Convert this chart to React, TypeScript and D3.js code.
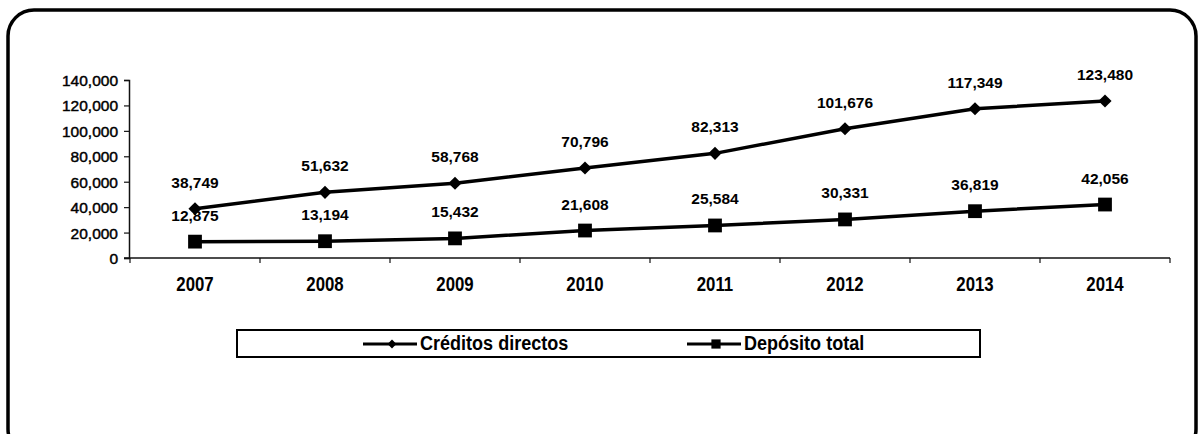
import React, { useEffect, useRef } from "react";
import * as d3 from "d3";

const years = ["2007", "2008", "2009", "2010", "2011", "2012", "2013", "2014"];
const creditos = [38749, 51632, 58768, 70796, 82313, 101676, 117349, 123480];
const depositos = [12875, 13194, 15432, 21608, 25584, 30331, 36819, 42056];
const yTicks = [0, 20000, 40000, 60000, 80000, 100000, 120000, 140000];
const seriesNames = ["Créditos directos", "Depósito total"];

export default function App() {
  const ref = useRef<SVGSVGElement>(null);

  useEffect(() => {
    const svg = d3.select(ref.current);
    svg.selectAll("*").remove();

    const font = "'Liberation Sans', Arial, sans-serif";

    // outer frame, bottom runs off the page
    svg.append("rect")
      .attr("x", 8).attr("y", 10)
      .attr("width", 1188).attr("height", 445)
      .attr("rx", 26)
      .attr("fill", "white")
      .attr("stroke", "#000")
      .attr("stroke-width", 3.5);

    const x = d3.scaleBand().domain(years).range([130, 1170]);
    const y = d3.scaleLinear().domain([0, 140000]).range([258, 80]);
    const fmt = d3.format(",");

    // y axis
    const gy = svg.append("g")
      .attr("transform", "translate(129,0)")
      .call(d3.axisLeft(y).tickValues(yTicks).tickFormat(d => fmt(d as number)).tickSize(5).tickPadding(6));
    gy.select(".domain").attr("stroke", "#111").attr("stroke-width", 1.5);
    gy.selectAll(".tick line").attr("stroke", "#111").attr("stroke-width", 1.2);
    gy.selectAll("text")
      .attr("font-family", font)
      .attr("font-size", 15.5)
      .attr("fill", "#000")
      .attr("stroke", "#000")
      .attr("stroke-width", 0.45)
      .attr("dy", "0.35em");

    // x axis
    const gx = svg.append("g").attr("transform", "translate(0,258)");
    gx.append("line")
      .attr("x1", 124).attr("x2", 1170)
      .attr("stroke", "#111").attr("stroke-width", 1.5);
    gx.selectAll("line.t")
      .data(years.concat(["end"]))
      .join("line")
      .attr("class", "t")
      .attr("x1", (d, i) => i < years.length ? x(d)! : x(years[years.length - 1])! + x.bandwidth())
      .attr("x2", (d, i) => i < years.length ? x(d)! : x(years[years.length - 1])! + x.bandwidth())
      .attr("y1", 0).attr("y2", 5)
      .attr("stroke", "#111").attr("stroke-width", 1.2);
    gx.selectAll("text")
      .data(years)
      .join("text")
      .attr("transform", d => `translate(${x(d)! + x.bandwidth() / 2},33) scale(0.82,1)`)
      .attr("text-anchor", "middle")
      .attr("font-family", font)
      .attr("font-size", 20.5)
      .attr("font-weight", "bold")
      .attr("fill", "#000")
      .text(d => d);

    const cx = (d: string) => x(d)! + x.bandwidth() / 2;
    const line = d3.line<number>()
      .x((d, i) => cx(years[i]))
      .y(d => y(d));

    const drawSeries = (vals: number[], marker: "diamond" | "square") => {
      svg.append("path")
        .datum(vals)
        .attr("d", line)
        .attr("fill", "none")
        .attr("stroke", "#000")
        .attr("stroke-width", 3.5);
      const sym = marker === "diamond"
        ? d3.symbol().type(d3.symbolDiamond2).size(110)
        : d3.symbol().type(d3.symbolSquare).size(190);
      svg.append("g").selectAll("path")
        .data(vals)
        .join("path")
        .attr("transform", (d, i) => `translate(${cx(years[i])},${y(d)})`)
        .attr("d", sym() as string)
        .attr("fill", "#000");
      svg.append("g").selectAll("text")
        .data(vals)
        .join("text")
        .attr("x", (d, i) => cx(years[i]))
        .attr("y", d => y(d) - 21)
        .attr("text-anchor", "middle")
        .attr("font-family", font)
        .attr("font-size", 15.5)
        .attr("font-weight", "bold")
        .attr("fill", "#000")
        .text(d => fmt(d));
    };
    drawSeries(depositos, "square");
    drawSeries(creditos, "diamond");

    // legend
    const lg = svg.append("g");
    lg.append("rect")
      .attr("x", 237).attr("y", 330)
      .attr("width", 743).attr("height", 27)
      .attr("fill", "white")
      .attr("stroke", "#000")
      .attr("stroke-width", 2);
    const items = [
      { name: seriesNames[0], x0: 363, marker: d3.symbol().type(d3.symbolDiamond2).size(50) },
      { name: seriesNames[1], x0: 687, marker: d3.symbol().type(d3.symbolSquare).size(85) },
    ];
    items.forEach(it => {
      lg.append("line")
        .attr("x1", it.x0).attr("x2", it.x0 + 54)
        .attr("y1", 344).attr("y2", 344)
        .attr("stroke", "#000").attr("stroke-width", 3);
      lg.append("path")
        .attr("transform", `translate(${it.x0 + 29},344)`)
        .attr("d", it.marker() as string)
        .attr("fill", "#000");
      lg.append("text")
        .attr("transform", `translate(${it.x0 + 57},350) scale(0.88,1)`)
        .attr("font-family", font)
        .attr("font-size", 20.5)
        .attr("font-weight", "bold")
        .attr("fill", "#000")
        .text(it.name);
    });
  }, []);

  return (
    <svg ref={ref} width={1200} height={434}
      style={{ position: "absolute", left: 0, top: 0, display: "block" }} />
  );
}
